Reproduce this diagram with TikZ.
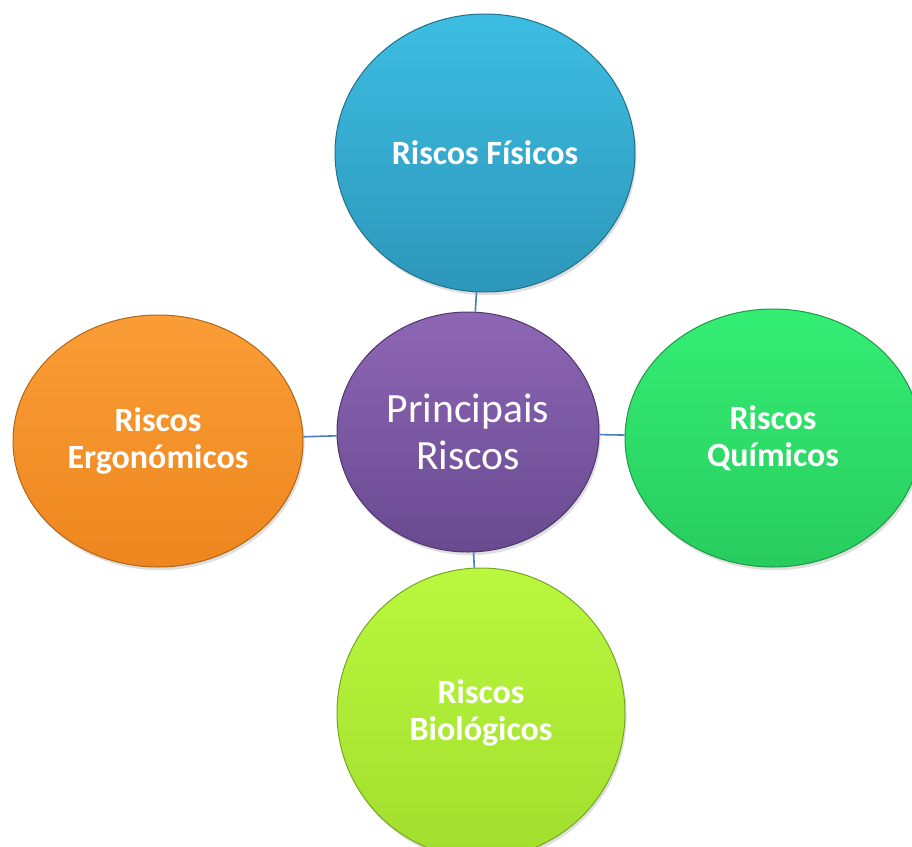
\documentclass[tikz,border=0pt]{standalone}
\usepackage{fontspec}
\setmainfont{Carlito}
\usetikzlibrary{shapes.geometric, shadows}

\definecolor{linkblue}{HTML}{4A7EBB}
\definecolor{fisTop}{HTML}{3DBDE2}
\definecolor{fisBot}{HTML}{2C97BA}
\definecolor{hubTop}{HTML}{8E66B5}
\definecolor{hubBot}{HTML}{684A90}
\definecolor{quiTop}{HTML}{34EE74}
\definecolor{quiBot}{HTML}{28CC5E}
\definecolor{ergTop}{HTML}{FA9D36}
\definecolor{ergBot}{HTML}{EE861E}
\definecolor{bioTop}{HTML}{B9F83E}
\definecolor{bioBot}{HTML}{A2DE2E}

\tikzset{
    risk/.style 2 args={
        ellipse, draw=#2!75!black, line width=0.5pt,
        top color=#1, bottom color=#2,
        text=white, align=center,
        font=\fontsize{17}{18.8}\selectfont\bfseries,
        drop shadow={opacity=0.25, shadow xshift=0.8pt, shadow yshift=-1.6pt}
    },
    link/.style={draw=linkblue, line width=0.8pt}
}

\begin{document}
\begin{tikzpicture}[x=0.5pt, y=-0.5pt]
    \useasboundingbox (0, 0) rectangle (912, 847);
    \clip (0, 0) rectangle (912, 847);

    % hub and the four kinds of risk round it
    \node[risk={hubTop}{hubBot}, minimum width=131pt, minimum height=120pt,
          font=\fontsize{20.8}{23.6}\selectfont] (hub) at (468, 432) {Principais\\Riscos};
    \node[risk={fisTop}{fisBot}, minimum width=150pt, minimum height=139pt] (fisicos) at (485, 153) {Riscos Físicos};
    \node[risk={quiTop}{quiBot}, minimum width=148pt, minimum height=129pt] (quimicos) at (773, 438) {Riscos\\Químicos};
    \node[risk={ergTop}{ergBot}, minimum width=145pt, minimum height=126pt] (ergonomicos) at (158, 441) {Riscos\\Ergonómicos};
    \node[risk={bioTop}{bioBot}, minimum width=144pt, minimum height=145pt] (biologicos) at (481, 713) {Riscos\\Biológicos};

    % links
    \draw[link] (hub) -- (fisicos);
    \draw[link] (hub) -- (quimicos);
    \draw[link] (hub) -- (ergonomicos);
    \draw[link] (hub) -- (biologicos);
\end{tikzpicture}
\end{document}
